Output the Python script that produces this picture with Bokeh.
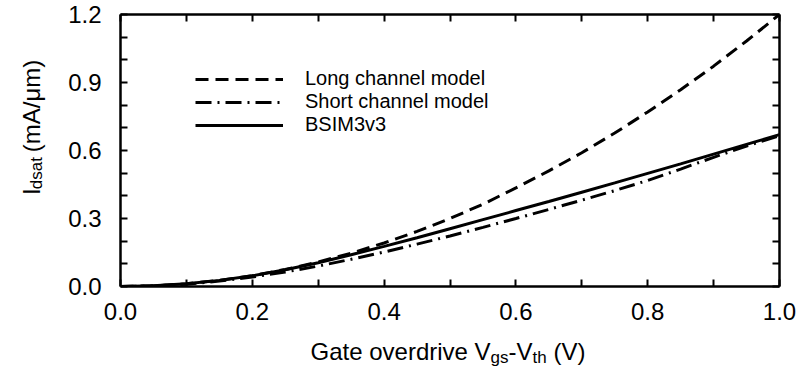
import math
from bokeh.plotting import figure
from bokeh.layouts import column, row
from bokeh.models import (FixedTicker, LinearAxis, Range1d, Legend, LegendItem,
                          NumeralTickFormatter, ColumnDataSource)
from bokeh.core.properties import value
from bokeh.embed import file_html
from bokeh.resources import INLINE

# ---- data ----
vov = [0.0, 0.05, 0.1, 0.15, 0.2, 0.25, 0.3, 0.35, 0.4, 0.45, 0.5,
       0.55, 0.6, 0.65, 0.7, 0.75, 0.8, 0.85, 0.9, 0.95, 1.0]
long_channel = [0.0, 0.003, 0.012, 0.027, 0.048, 0.075, 0.108, 0.147, 0.192, 0.243, 0.300,
                0.363, 0.435, 0.510, 0.590, 0.677, 0.770, 0.868, 0.972, 1.083, 1.200]
short_channel = [0.0, 0.002, 0.010, 0.024, 0.042, 0.064, 0.090, 0.120, 0.152, 0.187, 0.223,
                 0.261, 0.300, 0.340, 0.381, 0.423, 0.468, 0.518, 0.570, 0.620, 0.665]
bsim3v3 = [0.0, 0.003, 0.012, 0.027, 0.047, 0.074, 0.105, 0.140, 0.177, 0.215, 0.255,
           0.295, 0.335, 0.375, 0.416, 0.457, 0.499, 0.541, 0.584, 0.627, 0.670]

series_names = ["Long channel model", "Short channel model", "BSIM3v3"]

x_major = [0.0, 0.2, 0.4, 0.6, 0.8, 1.0]
x_minor = [0.1, 0.3, 0.5, 0.7, 0.9]
y_major = [0.0, 0.3, 0.6, 0.9, 1.2]
y_minor = [0.1, 0.2, 0.4, 0.5, 0.7, 0.8, 1.0, 1.1]

FONT = "Liberation Sans"
W, H = 799, 373
YT_W = 50          # width of the y-title strip
MAIN_H = 330       # height of the main figure
XT_H = H - MAIN_H  # height of the x-title strip

src = ColumnDataSource(dict(x=vov, lc=long_channel, sc=short_channel, bs=bsim3v3))

p = figure(width=W - YT_W, height=MAIN_H, x_range=Range1d(0, 1), y_range=Range1d(0, 1.2),
           output_backend="svg", toolbar_location=None, x_axis_location=None,
           y_axis_location=None,
           min_border_left=120 - YT_W, min_border_right=20, min_border_top=14,
           min_border_bottom=MAIN_H - 286)
p.xgrid.visible = False
p.ygrid.visible = False
p.outline_line_color = None
p.background_fill_color = "white"
p.border_fill_color = "white"

def make_axis(ticks, minor, show_labels):
    ax = LinearAxis(ticker=FixedTicker(ticks=ticks, minor_ticks=minor))
    ax.axis_line_width = 2.5
    ax.axis_line_color = "black"
    ax.major_tick_in = 7
    ax.major_tick_out = 0
    ax.minor_tick_in = 7
    ax.minor_tick_out = 0
    ax.major_tick_line_width = 2
    ax.minor_tick_line_width = 2
    ax.major_tick_line_color = "black"
    ax.minor_tick_line_color = "black"
    ax.formatter = NumeralTickFormatter(format="0.0")
    if show_labels:
        ax.major_label_text_font = FONT
        ax.major_label_text_font_size = "24px"
        ax.major_label_text_color = "black"
    else:
        ax.major_label_text_font_size = "0px"
        ax.major_label_text_color = None
        ax.major_label_standoff = 0
        ax.axis_label_standoff = 0
    return ax

xb = make_axis(x_major, x_minor, True)
xb.major_label_standoff = 16
yl = make_axis(y_major, y_minor, True)
yl.major_label_standoff = 19
xt = make_axis(x_major, x_minor, False)
yr = make_axis(y_major, y_minor, False)
p.add_layout(xb, "below")
p.add_layout(yl, "left")
p.add_layout(xt, "above")
p.add_layout(yr, "right")

r_long = p.line("x", "lc", source=src, line_color="black", line_width=3, line_dash="13 7")
r_short = p.line("x", "sc", source=src, line_color="black", line_width=3, line_dash="16 6 2 6")
r_bsim = p.line("x", "bs", source=src, line_color="black", line_width=3)

legend = Legend(items=[LegendItem(label=series_names[0], renderers=[r_long]),
                       LegendItem(label=series_names[1], renderers=[r_short]),
                       LegendItem(label=series_names[2], renderers=[r_bsim])],
                location=(75, 150), glyph_width=88, glyph_height=20, label_height=20,
                spacing=0, label_standoff=22, padding=0, margin=0,
                label_text_font=FONT, label_text_font_size="20px",
                label_text_color="black",
                border_line_color=None, background_fill_alpha=0)
p.add_layout(legend, "center")

# ---- title strips (plain figures whose data units are pixels) ----
def strip(w, h):
    f = figure(width=w, height=h, x_range=Range1d(0, w), y_range=Range1d(0, h),
               output_backend="svg", toolbar_location=None, x_axis_location=None,
               y_axis_location=None, min_border=0)
    f.xgrid.visible = False
    f.ygrid.visible = False
    f.outline_line_color = None
    f.background_fill_color = "white"
    f.border_fill_color = "white"
    return f

def put(f, x, y, text, size, angle=0.0):
    f.text(x=[x], y=[y], text=[text], text_font=value(FONT), text_font_size=value(size),
           text_color="black", text_align="left", text_baseline="alphabetic", angle=angle)

# y title: I_dsat (mA/μm), rotated (y measured from the strip bottom)
yfig = strip(YT_W, MAIN_H)
a = math.pi / 2
put(yfig, 31, MAIN_H - 219, "I", "24px", a)
put(yfig, 36, MAIN_H - 212, "dsat", "17px", a)
put(yfig, 31, MAIN_H - 167, "(mA/\u03bcm)", "24px", a)

# x title: Gate overdrive V_gs - V_th (V)  (canvas x, baseline measured from window bottom)
xfig = strip(W, XT_H)
put(xfig, 310, H - 351, "Gate overdrive V", "24px")
put(xfig, 490, H - 357, "gs", "17px")
put(xfig, 508, H - 351, "-V", "24px")
put(xfig, 532, H - 357, "th", "17px")
put(xfig, 553, H - 351, "(V)", "24px")

layout = column(row(yfig, p, spacing=0), xfig, spacing=0)
open("out.html", "w").write(file_html(layout, INLINE))
